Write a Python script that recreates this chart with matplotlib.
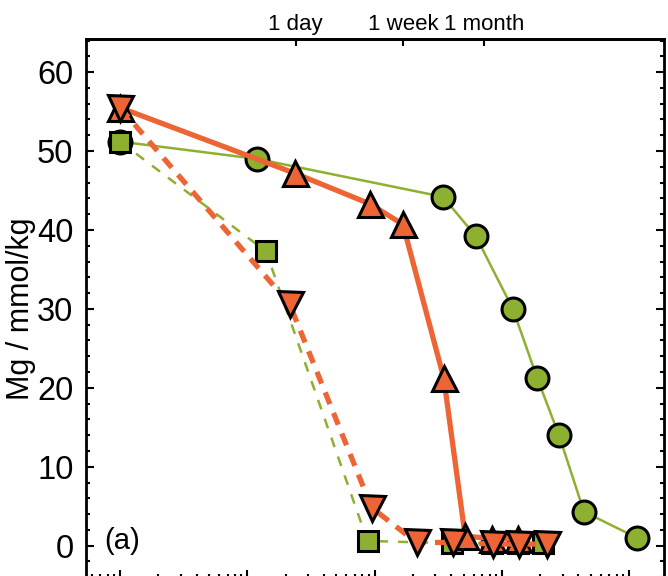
import matplotlib
matplotlib.use("Agg")
import matplotlib.pyplot as plt
from matplotlib.ticker import MultipleLocator, LogLocator, NullFormatter, NullLocator
import numpy as np

plt.rcParams['font.family'] = ['Liberation Sans', 'DejaVu Sans']

# time in hours
circ_t = [1, 12, 345, 625, 1220, 1890, 2810, 4420, 11500]
circ_y = [51.2, 49.0, 44.2, 39.2, 30.0, 21.3, 14.0, 4.3, 1.0]

sq_t = [1, 14, 88, 405, 830, 1350, 2100]
sq_y = [51.2, 37.3, 0.6, 0.3, 0.3, 0.3, 0.3]

up_t = [1, 23.5, 92, 167, 350, 515, 840, 1350]
up_y = [55.5, 47.2, 43.3, 40.7, 21.2, 1.2, 0.9, 0.9]

dn_t = [1, 21.5, 95, 214, 415, 847, 1370, 2270]
dn_y = [55.5, 30.6, 4.8, 0.4, 0.4, 0.2, 0.2, 0.2]

top_ticks = [24, 168, 720]
top_labels = ['1 day', '1 week', '1 month']

green = '#8DB030'
orange = '#EE6535'

fig = plt.figure(figsize=(6.68, 5.76), dpi=100)
ax = fig.add_axes([86/668, (576-578)/576, (664-86)/668, (578-39)/576])

mec = 'black'
mew = 2.2
ax.plot(circ_t, circ_y, '-', color=green, lw=1.8, marker='o', ms=16.5,
        mfc=green, mec=mec, mew=mew, zorder=3)
ax.plot(sq_t, sq_y, '--', color=green, lw=1.8, dashes=(4, 4), marker='s', ms=14,
        mfc=green, mec=mec, mew=mew, zorder=3)
ax.plot(up_t, up_y, '-', color=orange, lw=3.8, marker='^', ms=18,
        mfc=orange, mec=mec, mew=mew, zorder=4)
ax.plot(dn_t, dn_y, '--', color=orange, lw=3.8, dashes=(2.4, 1.8), marker='v', ms=18,
        mfc=orange, mec=mec, mew=mew, zorder=4)

ax.set_xscale('log')
ax.set_xlim(0.54, 18800)
ax.set_ylim(-4.1, 64.2)

ax.yaxis.set_major_locator(MultipleLocator(10))
ax.yaxis.set_minor_locator(MultipleLocator(2))
ax.xaxis.set_major_locator(LogLocator(base=10))
ax.xaxis.set_minor_locator(LogLocator(base=10, subs=np.arange(2, 10)))
ax.xaxis.set_minor_formatter(NullFormatter())

ax.tick_params(axis='both', which='major', direction='in', length=6, width=1.5,
               labelsize=23.5, top=False, right=True, labelbottom=False, pad=9)
ax.tick_params(axis='both', which='minor', direction='in', length=3, width=1.5,
               top=False, right=True)
for s in ax.spines.values():
    s.set_linewidth(2)

ax.set_ylabel('Mg / mmol/kg', fontsize=22, labelpad=1)

sec = ax.secondary_xaxis('top')
sec.set_xticks(top_ticks)
sec.set_xticklabels(top_labels)
sec.xaxis.set_minor_locator(NullLocator())
sec.tick_params(axis='x', which='major', direction='in', length=5, width=1.5,
                labelsize=16, pad=3)
sec.spines['top'].set_linewidth(2)

ax.text(0.032, 0.068, '(a)', transform=ax.transAxes, fontsize=21,
        ha='left', va='center')

fig.savefig('out.png', dpi=100)
